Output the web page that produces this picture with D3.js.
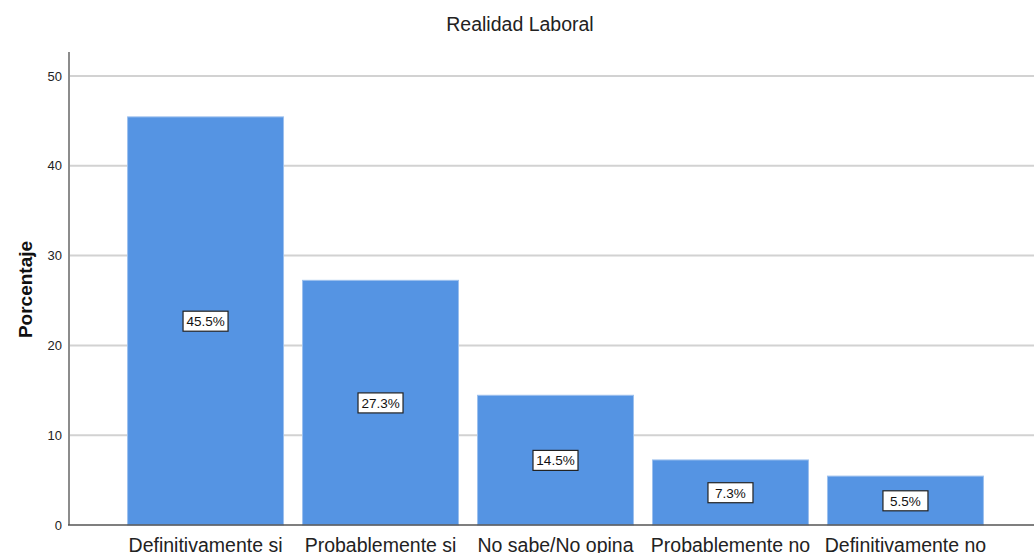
<!DOCTYPE html>
<html>
<head>
<meta charset="utf-8">
<script src="https://cdn.jsdelivr.net/npm/d3@7/dist/d3.min.js"></script>
<style>
  html, body { margin: 0; padding: 0; background: #fff; }
  svg { display: block; font-family: "Liberation Sans", Arial, sans-serif; }
</style>
</head>
<body>
<svg id="chart" width="1034" height="553"></svg>
<script>
// Survey answers and their share of respondents (%)
const categories = ["Definitivamente si", "Probablemente si", "No sabe/No opina", "Probablemente no", "Definitivamente no"];
const percentages = [45.5, 27.3, 14.5, 7.3, 5.5];
const yTicks = [0, 10, 20, 30, 40, 50];
const chartTitle = "Realidad Laboral";
const yTitle = "Porcentaje";

const W = 1034, H = 553;
const plot = { left: 69, right: 1034, top: 52, bottom: 525 };

const svg = d3.select("#chart");

const x = d3.scaleBand()
  .domain(categories)
  .range([plot.left, plot.right])
  .paddingInner(0.103)
  .paddingOuter(0.309)
  .align(0.537);

const y = d3.scaleLinear()
  .domain([0, 52.67])
  .range([plot.bottom, plot.top]);

// Horizontal grid lines
svg.append("g")
  .selectAll("line")
  .data(yTicks.filter(d => d > 0))
  .join("line")
  .attr("x1", plot.left)
  .attr("x2", plot.right)
  .attr("y1", d => y(d))
  .attr("y2", d => y(d))
  .attr("stroke", "#d2d2d2")
  .attr("stroke-width", 2);

// Bars
svg.append("g")
  .selectAll("rect")
  .data(categories)
  .join("rect")
  .attr("x", d => x(d) + 0.5)
  .attr("width", x.bandwidth() - 1)
  .attr("y", (d, i) => y(percentages[i]) + 0.5)
  .attr("height", (d, i) => y(0) - y(percentages[i]) - 0.5)
  .attr("fill", "#5594e3")
  .attr("stroke", "#9cc0ee")
  .attr("stroke-width", 1);

// Y axis
const yAxis = d3.axisLeft(y).tickValues(yTicks).tickSize(0).tickPadding(7);
const gy = svg.append("g")
  .attr("transform", `translate(${plot.left},0)`)
  .call(yAxis);
gy.select(".domain").remove();
gy.selectAll("text")
  .attr("font-size", 13)
  .attr("font-family", "Liberation Sans, Arial, sans-serif")
  .attr("fill", "#222");
svg.append("line")
  .attr("x1", plot.left).attr("x2", plot.left)
  .attr("y1", plot.top).attr("y2", plot.bottom)
  .attr("stroke", "#8c8c8c").attr("stroke-width", 2);

// X axis
const xAxis = d3.axisBottom(x).tickSize(0).tickPadding(13);
const gx = svg.append("g")
  .attr("transform", `translate(0,${plot.bottom})`)
  .call(xAxis);
gx.select(".domain").remove();
gx.selectAll("text")
  .attr("font-size", 19.5)
  .attr("font-family", "Liberation Sans, Arial, sans-serif")
  .attr("fill", "#222");
svg.append("line")
  .attr("x1", plot.left - 1).attr("x2", plot.right)
  .attr("y1", plot.bottom).attr("y2", plot.bottom)
  .attr("stroke", "#555").attr("stroke-width", 1.5);

// Value labels in boxes at each bar's middle
const labels = svg.append("g")
  .selectAll("g")
  .data(categories)
  .join("g")
  .attr("transform", (d, i) => `translate(${x(d) + x.bandwidth() / 2},${(y(percentages[i]) + y(0)) / 2})`);
labels.append("rect")
  .attr("x", -22.5).attr("y", -9.5)
  .attr("width", 45).attr("height", 20)
  .attr("fill", "#fff")
  .attr("stroke", "#222").attr("stroke-width", 1.2);
labels.append("text")
  .attr("text-anchor", "middle")
  .attr("y", 5.5)
  .attr("font-size", 13.5)
  .attr("fill", "#111")
  .text((d, i) => percentages[i].toFixed(1) + "%");

// Title
svg.append("text")
  .attr("x", 520).attr("y", 31)
  .attr("text-anchor", "middle")
  .attr("font-size", 19.5)
  .attr("fill", "#222")
  .text(chartTitle);

// Y axis title
svg.append("text")
  .attr("transform", `translate(32,${(plot.top + plot.bottom) / 2 + 1}) rotate(-90)`)
  .attr("text-anchor", "middle")
  .attr("font-size", 19)
  .attr("font-weight", "bold")
  .attr("fill", "#111")
  .text(yTitle);
</script>
</body>
</html>
